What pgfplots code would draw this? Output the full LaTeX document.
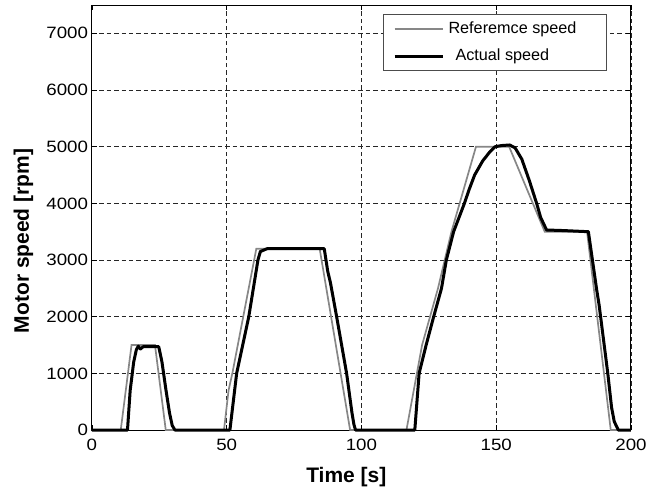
\documentclass[border=0pt]{standalone}
\usepackage{pgfplots}
\pgfplotsset{compat=1.18}
\usepackage{fontspec}
\setmainfont{Liberation Sans}
\newfontfamily\tickfont{Liberation Sans}[FakeStretch=1.14]
\definecolor{refgray}{RGB}{135,135,135}
\begin{document}
\begin{tikzpicture}
\begin{axis}[
  scale only axis,
  width=269.5pt, height=212.5pt,
  xmin=0, xmax=200, ymin=0, ymax=7500,
  xtick={0,50,100,150,200},
  ytick={0,1000,2000,3000,4000,5000,6000,7000},
  tick align=inside,
  major tick length=2.5pt,
  tick style={black, line width=0.4pt},
  axis line style={black, line width=0.5pt},
  grid=major,
  major grid style={black!85, line width=0.45pt, dash pattern=on 2.2pt off 1.5pt},
  /pgf/number format/assume math mode=true,
  /pgf/number format/1000 sep={},
  tick label style={font=\tickfont\fontsize{8.2}{9}\selectfont},
  xticklabel style={yshift=-1.2pt},
  yticklabel style={xshift=1.6pt},
  xlabel={Time [s]},
  ylabel={Motor speed [rpm]},
  label style={font=\fontsize{10.5}{12}\selectfont\bfseries},
  xlabel style={at={(axis description cs:0.472,-0.11)}, anchor=center},
  ylabel style={at={(axis description cs:-0.127,0.445)}, anchor=center},
  clip=false,
  legend style={at={(axis description cs:0.9554,0.980)}, anchor=north east,
    draw=black!70, line width=0.5pt, fill=white,
    font=\fontsize{8.1}{9}\selectfont,
    inner xsep=5pt, inner ysep=1.7pt, row sep=2.3pt,
    cells={anchor=west}},
  legend image code/.code={\draw[#1] (0cm,0cm) -- (0.85cm,0cm);},
]
\addplot[refgray, line width=0.85pt] coordinates {
(0,0) (10.7,0) (14.7,1500) (23.4,1500) (27.4,0) (49.0,0) (50.7,700) (52.1,1000)
(61.0,3200) (84.5,3200) (95.8,0) (116.7,0) (122.5,1500) (128.4,2500) (133.4,3500)
(142.5,5000) (154.8,5000) (168.0,3500) (183.7,3500) (192.5,0) (200,0)
};
\addlegendentry{Referemce speed\hspace*{8pt}}
\addplot[black, line width=1.5pt, line join=round] coordinates {
(0,0) (13.2,0) (14.2,700) (15.5,1200) (16.5,1420) (17.2,1480) (18,1430) (19,1470)
(24.8,1470) (26,1200) (27.5,700) (28.8,300) (29.8,80) (30.8,0) (51.2,0) (53.7,1000)
(58.2,2000) (61.6,3000) (62.5,3150) (64,3180) (65,3200) (86.2,3200) (87.5,2800)
(88.5,2600) (90.8,2000) (94.5,1000) (96.5,300) (97.2,100) (97.8,0) (119.8,0)
(121.4,1000) (124,1500) (126.8,2000) (129.7,2500) (131.5,3000) (134.2,3500)
(138.2,4000) (140,4250) (142,4500) (145,4750) (147.5,4900) (149.6,5000) (152,5020)
(155,5030) (157,4980) (159.5,4780) (162.3,4400) (165,4000) (166.5,3750) (168.7,3530)
(175,3520) (184.2,3500) (184.8,3300) (187.2,2500) (188.2,2200) (191.4,1000)
(192.8,400) (193.8,150) (195.3,0) (200,0)
};
\addlegendentry{\hspace{3.5pt}Actual speed}
\path (axis description cs:-0.1705,-0.134) rectangle (axis description cs:1.0446,1.0118);
\end{axis}
\end{tikzpicture}
\end{document}
